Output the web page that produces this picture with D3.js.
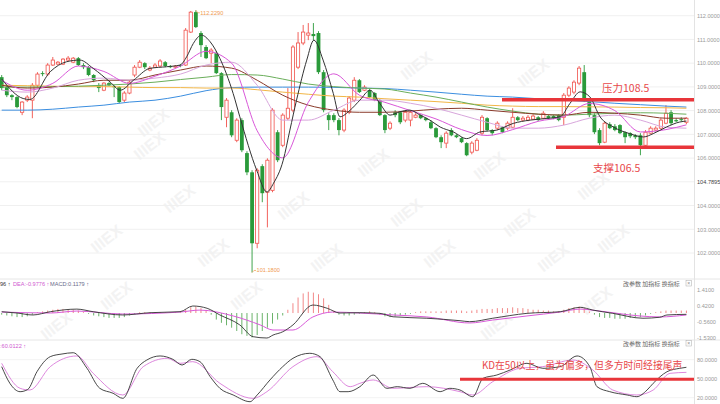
<!DOCTYPE html>
<html><head><meta charset="utf-8">
<script src="https://cdn.jsdelivr.net/npm/d3@7"></script>
<style>body{margin:0;background:#fff;overflow:hidden}svg{display:block;font-family:"Liberation Sans","DejaVu Sans",Arial,sans-serif}</style>
</head><body><svg id="c" width="720" height="404"></svg>
<script>
// ---------- DATA ----------
const opens=[109.41,108.99,108.65,108.57,107.93,108.44,108.44,109.07,109.58,109.54,
109.92,109.96,109.96,110.13,110.04,110.21,109.92,109.83,109.50,109.07,
108.86,109.16,109.03,108.99,108.44,108.74,109.50,109.83,110.00,109.71,
109.83,109.88,110.04,109.88,109.83,109.92,109.92,111.31,112.15,111.27,
110.68,110.42,110.42,109.58,107.72,107.93,106.75,107.60,106.21,105.40,
102.41,105.66,104.56,104.64,107.09,106.54,107.68,108.02,109.83,110.85,
111.18,111.23,111.27,109.62,107.81,107.81,107.60,107.18,107.93,108.44,
109.28,108.86,108.86,108.74,108.44,107.81,107.26,107.93,107.93,107.60,
107.60,107.72,107.81,107.68,107.51,107.26,106.88,106.63,107.18,106.96,
106.84,106.63,106.25,106.33,107.05,107.68,107.18,107.26,107.30,107.26,
107.30,107.72,107.60,107.60,107.64,107.72,107.68,107.77,107.77,107.81,
107.72,108.65,108.78,109.16,109.62,108.44,107.81,107.18,106.67,107.43,
107.34,107.39,107.09,107.05,106.96,106.96,106.54,107.05,107.18,107.26,
107.47,107.93,107.60,107.64,107.51];
const closes=[108.95,108.65,108.57,108.15,108.36,108.57,109.07,109.54,109.54,109.92,
110.13,110.04,110.17,110.21,110.21,109.92,109.83,109.50,109.28,108.95,
109.16,109.07,108.99,108.36,108.74,109.20,109.83,110.04,109.83,109.79,
109.92,110.09,109.88,109.83,109.88,109.88,111.39,112.15,111.52,110.76,
110.21,110.55,109.58,108.15,108.44,106.96,107.60,106.33,105.40,102.41,
105.49,104.52,105.91,108.02,105.91,107.81,108.10,110.68,110.85,111.31,
111.27,111.14,109.62,108.02,107.60,107.60,107.18,108.02,108.53,109.28,
108.78,108.99,108.57,108.44,107.81,107.18,107.47,107.81,107.51,107.93,
107.93,107.81,107.68,107.60,107.26,106.88,106.67,107.05,106.96,106.88,
106.67,106.12,106.63,106.75,107.72,107.18,107.05,107.47,107.09,107.47,
107.72,107.60,107.68,107.72,107.77,107.60,107.89,107.68,107.68,107.60,
108.65,108.95,109.20,109.79,108.44,107.81,107.09,106.63,107.47,107.26,
107.18,107.05,106.88,106.92,106.88,106.54,107.09,107.26,107.26,107.60,
107.89,107.47,107.55,107.60,107.68];
const highs=[109.50,109.07,108.69,108.61,108.40,108.65,109.16,109.62,109.66,110.00,
110.26,110.09,110.21,110.30,110.26,110.26,110.00,109.88,109.54,109.16,
109.20,109.20,109.07,109.03,108.82,109.28,109.92,110.13,110.04,109.88,
110.00,110.17,110.09,109.92,109.92,109.96,111.48,112.20,112.229,111.35,
110.76,110.63,110.51,109.62,108.53,108.02,107.68,107.68,106.29,105.49,
105.57,105.74,105.99,108.10,107.18,107.89,108.95,110.76,111.31,111.61,
111.69,111.69,111.35,109.71,107.89,107.89,107.68,108.10,108.61,109.41,
109.33,109.07,108.95,108.78,108.48,107.85,107.55,108.02,107.98,108.02,
108.02,107.89,107.85,107.72,107.60,107.30,106.96,107.13,107.26,107.01,
106.88,106.67,106.71,106.84,107.81,107.72,107.22,107.55,107.34,107.55,
108.10,107.77,107.77,107.81,107.85,107.77,107.98,107.81,107.81,107.85,
108.74,109.03,109.28,109.88,109.92,108.48,107.89,107.26,107.55,107.51,
107.43,107.43,107.13,107.09,107.01,107.05,107.18,107.34,107.34,107.68,
108.23,108.02,107.68,107.72,107.72];
const lows=[108.86,108.57,108.44,108.10,107.81,108.36,107.68,108.99,109.45,109.45,
109.88,109.92,109.92,110.09,110.00,109.88,109.75,109.45,109.20,108.78,
108.82,109.03,108.57,108.31,108.36,108.69,109.41,109.79,109.75,109.66,
109.79,109.83,109.83,109.79,109.79,109.83,109.88,111.27,111.48,110.26,
110.17,110.00,109.54,107.60,107.30,106.88,106.67,106.25,105.28,101.18,
102.20,104.14,103.08,104.56,105.83,106.46,107.60,107.93,109.75,110.76,
110.97,110.97,109.54,107.93,107.18,107.51,106.96,107.09,107.85,108.36,
108.74,108.82,108.53,108.40,107.77,107.05,107.18,107.72,107.43,107.51,
107.34,107.68,107.64,107.55,107.22,106.84,106.42,106.42,106.92,106.84,
106.63,106.08,106.16,106.29,106.96,107.13,106.96,107.18,107.05,107.18,
107.26,107.55,107.55,107.55,107.60,107.55,107.64,107.64,107.64,107.55,
107.39,108.57,108.69,109.07,108.36,107.72,107.01,106.54,106.63,107.22,
107.13,107.01,106.63,106.84,106.80,106.12,106.50,107.01,107.13,107.22,
107.43,107.39,107.51,107.55,107.43];

// moving averages (read at sample candles)
const ma5Idx=[0,4.2,5.5,9.5,12.7,15.3,17.9,21.2,23.2,25.8,29,32.3,34.9,36.2,37.5,39.1,40.8,42.7,45.3,46.6,49.9,51.9,53.2,55.1,56.4,57.7,59.7,61.1,62.9,64.9,66.2,68.2,70.1,72.1,74,76,77.9,79.9,81.9,83.8,85.8,88.4,91,93.6,96.9,100.1,103.4,106.7,109.3,111.2,113.2,115.1,117.1,119.7,122.9,125.6,127.5,130.1,132.7,134];
const ma5=[109.33,108.51,108.47,109.64,110.06,110.13,109.78,109.21,108.86,109.28,109.78,109.85,109.92,110.27,110.83,111.18,110.90,110.20,108.72,107.74,105.49,104.57,104.94,105.91,107.18,108.44,110.13,110.97,110.13,108.72,107.74,108.02,108.44,108.86,108.30,107.81,107.95,108.02,107.81,107.60,107.31,107.10,106.82,107.10,107.18,107.46,107.60,107.67,107.74,108.30,108.79,108.58,107.74,107.31,107.03,106.89,107.03,107.31,107.52,107.56];
const maIdx=[0,5,10,15,20,25,30,35,40,45,50,55,60,65,70,75,80,85,90,95,100,105,110,115,120,125,130,134];
const ma10=[109.28,108.86,109.15,109.88,109.65,109.15,109.45,109.88,110.50,110.00,107.15,106.01,108.35,109.55,108.65,108.35,108.00,107.65,107.20,106.95,107.20,107.55,107.75,108.30,108.00,107.10,107.20,107.40];
const ma20=[108.86,108.78,108.95,109.28,109.37,109.28,109.37,109.54,109.92,110.04,109.07,107.60,107.60,108.02,108.44,108.44,108.31,108.10,107.81,107.51,107.26,107.26,107.39,107.68,107.81,107.60,107.30,107.26];
const ma30=[109.07,108.95,108.99,109.12,109.28,109.28,109.50,109.71,109.88,109.79,109.28,108.65,108.23,108.02,107.93,107.93,107.98,108.06,108.10,108.02,107.93,107.85,107.81,107.93,107.89,107.81,107.68,107.68];
const ma60=[108.99,108.99,109.01,109.03,109.07,109.12,109.20,109.31,109.41,109.52,109.50,109.33,109.12,109.01,108.95,108.91,108.74,108.57,108.36,108.15,107.98,107.85,107.81,107.85,107.89,107.91,107.89,107.85];
const ma120=[109.07,109.05,109.03,109.01,109.01,108.99,108.97,108.97,108.95,108.95,108.88,108.78,108.69,108.61,108.57,108.50,108.44,108.38,108.31,108.23,108.19,108.17,108.17,108.16,108.15,108.13,108.12,108.10];
const ma250=[108.02,108.02,108.06,108.15,108.23,108.36,108.44,108.61,108.84,108.97,108.99,108.99,108.99,108.98,108.95,108.93,108.86,108.78,108.69,108.61,108.57,108.50,108.44,108.38,108.31,108.25,108.19,108.15];

// MACD
const difIdx=[0,3,6.1,9.5,14.7,17.9,23.7,29,34.9,37.4,40.2,42.7,46.6,49.2,51.9,53.1,55,57,60.9,63.7,66.2,70.1,74,76.6,83.2,89.7,91.6,96.1,102.8,109.3,113.2,115.7,119.6,125.5,128.8,130.2,134];
const dif=[0.08,0,-0.12,0.08,0.24,0.08,-0.12,0.02,0.08,0.43,0.29,-0.12,-0.73,-1.45,-1.53,-1.35,-1.15,-0.73,0.49,0.29,0,0.02,-0.02,-0.23,-0.32,-0.47,-0.53,-0.32,-0.02,0.08,0.35,0.18,-0.02,-0.32,-0.26,-0.12,-0.08];
const deaIdx=[0,9.5,14.7,23.7,34.9,38.8,45.3,50.6,53.1,57,60.9,64.8,70.1,76.6,83.2,91.6,96.1,102.8,109.3,113.2,117,124.9,128.8,134];
const dea=[0.06,0,0.12,-0.06,0.06,0.18,-0.18,-0.73,-1.04,-1.04,-0.24,0.06,0,-0.12,-0.24,-0.61,-0.43,-0.18,0.06,0.24,0.12,-0.18,-0.24,-0.12];
const macdHist=[-0.1,-0.15,-0.2,-0.25,-0.25,-0.2,-0.1,0.05,0.1,0.15,
0.2,0.25,0.25,0.2,0.2,0.15,0.05,-0.05,-0.15,-0.2,
-0.25,-0.3,-0.3,-0.3,-0.25,-0.15,-0.05,0.05,0.05,0.05,
0.05,0.05,0.05,0.05,0.05,0.05,0.2,0.35,0.4,0.3,
0.15,-0.1,-0.4,-0.6,-0.75,-0.9,-1.1,-1.3,-1.4,-1.5,
-1.35,-1.1,-0.9,-0.65,-0.4,-0.15,0.2,0.6,0.95,1.2,
1.3,1.25,1.15,0.9,0.5,0.15,-0.1,-0.15,-0.15,-0.1,
-0.05,0.05,0.1,0.05,-0.1,-0.2,-0.25,-0.2,-0.15,-0.1,
-0.05,0.05,0.1,0.1,0.1,0.1,0.1,0.15,0.15,0.15,
0.15,0.1,0.15,0.2,0.25,0.25,0.25,0.3,0.3,0.3,
0.35,0.3,0.3,0.25,0.2,0.2,0.15,0.15,0.1,0.1,
0.2,0.3,0.35,0.4,0.3,0.1,-0.1,-0.25,-0.3,-0.3,
-0.35,-0.35,-0.35,-0.3,-0.3,-0.25,-0.15,-0.05,0.05,0.1,
0.15,0.15,0.15,0.15,0.15];

// KD
const kIdx=[0,1.6,3.6,5.1,6.9,9.5,11.8,14,16.7,19.2,21.8,23.7,26.5,28.4,31,33.5,35.3,37.2,38.8,40.8,42.7,45.3,48.6,50,52.5,55,57,60.3,62.3,64.8,66.2,67.8,70.1,72.7,75.4,77.4,79.9,82.4,85.8,87.7,89.7,92.2,94.2,96.9,99.5,102.8,105.9,109.3,112.6,115.1,116.5,119,122.4,124.3,126.3,127.5,130.2,132.7,134];
const kVal=[69,42.7,29.5,33,61,84.8,89,91,66.4,34.8,27,19,66.4,79.5,85.9,80.6,71.6,80.6,76.9,53.2,34.8,24.3,13.7,24.3,48,69,82.2,90.1,84.8,48,29.5,29.5,37.4,55.8,34.8,37.4,34.8,42.7,29.5,34.8,32.1,21.6,50.6,55.8,63.7,74.3,66.4,69,85.9,69,37.4,29.5,24.3,21.6,32.1,42.7,61,66.4,68];
const dIdx=[0,3.6,5.5,9.5,14.7,17.9,23.7,27.7,32.4,34.9,37.4,42.7,49.2,51.9,57,61.7,64.8,68.2,70.1,72.7,76.6,83.2,89.7,92.2,96.1,101.4,105.9,111.8,115.7,119.6,124.3,127.5,130.8,134];
const dVal=[74.3,34.8,32.1,69,85.9,58.5,24.3,69,82.2,74.3,76.9,42.7,19,29.5,69,84.8,61,37.4,42.7,48,34.8,37.4,29.5,24.3,45.3,66.4,69,79.5,63.7,32.1,24.3,32.1,58.5,60.01];

// ticks
const priceTicks=[112,111,110,109,108,107,106,105,104,103,102];
const priceTickLabels=["112.0000","111.0000","110.0000","109.0000","108.0000","107.0000","106.0000","104.7895","104.0000","103.0000","102.0000"];
const macdTicks=[1.41,0.42,-0.56,-1.53];
const macdTickLabels=["1.4100","0.4200","-0.5600","-1.5300"];
const kdTicks=[80,50,20];
const kdTickLabels=["80.0000","50.0000","20.0000"];
const resistance=108.5, support=106.5, kdLevel=50;

// ---------- CHART ----------
const svg=d3.select('#c');
const AX=694;
const x=d3.scaleLinear().domain([0,134]).range([1.7,686.4]);
const yP=d3.scaleLinear().domain([102,112]).range([253,15.7]);
const yM=d3.scaleLinear().domain([-1.53,1.41]).range([338,290]);
const yK=d3.scaleLinear().domain([20,80]).range([397.7,359.7]);
const RED='#f0504a', GRN='#2a9a3a';

// watermarks
const wm=[[153,150],[183,203],[110,243],[217,257],[377,167],[297,210],[410,217],[330,262],[443,258],[493,170],[597,190],[523,227],[617,243],[557,262],[420,70],[537,77],[157,127],[120,300],[250,300],[600,305],[60,330],[500,330]];
svg.append('g').selectAll('text').data(wm).join('text')
 .attr('transform',d=>`translate(${d[0]},${d[1]}) rotate(-38)`)
 .attr('text-anchor','middle').attr('font-size',16).attr('font-weight','bold')
 .attr('fill','#f3f3f3').text('IIIEX');

// grids
svg.append('g').selectAll('line').data(priceTicks).join('line')
 .attr('x1',0).attr('x2',AX).attr('y1',d=>yP(d)).attr('y2',d=>yP(d)).attr('stroke','#f0f0f0');
svg.append('g').selectAll('line').data(kdTicks).join('line')
 .attr('x1',0).attr('x2',AX).attr('y1',d=>yK(d)).attr('y2',d=>yK(d)).attr('stroke','#f3f3f3');
[279,340].forEach(v=>svg.append('line').attr('x1',0).attr('x2',720).attr('y1',v).attr('y2',v).attr('stroke','#e6e6e6'));
svg.append('line').attr('x1',AX+0.5).attr('x2',AX+0.5).attr('y1',0).attr('y2',404).attr('stroke','#e3e3e3');

// candles
const main=svg.append('g');
const cd=opens.map((o,i)=>({i,o,c:closes[i],h:highs[i],l:lows[i]}));
cd.forEach(d=>{
  const up=d.c>=d.o, col=up?RED:GRN, cx=x(d.i);
  const top=yP(Math.max(d.o,d.c)), bot=yP(Math.min(d.o,d.c));
  if(up){
    main.append('line').attr('x1',cx).attr('x2',cx).attr('y1',yP(d.h)).attr('y2',top).attr('stroke',col).attr('stroke-width',0.9);
    main.append('line').attr('x1',cx).attr('x2',cx).attr('y1',bot).attr('y2',yP(d.l)).attr('stroke',col).attr('stroke-width',0.9);
    main.append('rect').attr('x',cx-1.6).attr('y',top).attr('width',3.2).attr('height',Math.max(0.8,bot-top)).attr('fill','#fff').attr('stroke',col).attr('stroke-width',0.8);
  } else {
    main.append('line').attr('x1',cx).attr('x2',cx).attr('y1',yP(d.h)).attr('y2',yP(d.l)).attr('stroke',col).attr('stroke-width',0.9);
    main.append('rect').attr('x',cx-1.9).attr('y',top).attr('width',3.8).attr('height',Math.max(1,bot-top)).attr('fill',col);
  }
});

function path(idx,vals,sc,col,w){
  const ln=d3.line().x((d,j)=>x(idx[j])).y(d=>sc(d)).curve(d3.curveMonotoneX);
  svg.append('path').attr('d',ln(vals)).attr('fill','none').attr('stroke',col).attr('stroke-width',w||0.9);
}
path(maIdx,ma250,yP,'#3b8ee0',1);
path(maIdx,ma120,yP,'#f2b646',1);
path(maIdx,ma60,yP,'#6aae5a',1);
path(maIdx,ma30,yP,'#8a3b2b',1);
path(maIdx,ma20,yP,'#d8a6dc',1);
path(maIdx,ma10,yP,'#d957d9',1);
path(ma5Idx,ma5,yP,'#333',1);

// extreme labels
const hiI=highs.indexOf(d3.max(highs)), loI=lows.indexOf(d3.min(lows));
svg.append('path').attr('d',`M${x(hiI)},${yP(highs[hiI])}L${x(hiI)+2},${yP(highs[hiI])+2.5}L${x(hiI)+4},${yP(highs[hiI])+2.5}`).attr('fill','none').attr('stroke','#f09a50').attr('stroke-width',0.7);
svg.append('text').attr('x',x(hiI)+4.5).attr('y',yP(highs[hiI])+4.5).attr('font-size',5.6).attr('fill','#f09a50').text(highs[hiI].toFixed(4));
svg.append('path').attr('d',`M${x(loI)},${yP(lows[loI])}L${x(loI)+2},${yP(lows[loI])-2}L${x(loI)+4},${yP(lows[loI])-2}`).attr('fill','none').attr('stroke','#f09a50').attr('stroke-width',0.7);
svg.append('text').attr('x',x(loI)+4.5).attr('y',yP(lows[loI])).attr('font-size',5.6).attr('fill','#f09a50').text(lows[loI].toFixed(4));

// price axis
const ax=svg.append('g').attr('transform',`translate(${AX},0)`)
 .call(d3.axisRight(yP).tickValues(priceTicks).tickSize(0).tickPadding(3).tickFormat((d,i)=>priceTickLabels[i]));
ax.select('.domain').remove();
ax.selectAll('text').attr('font-size',5.6).attr('fill',(d,i)=>i===7?'#444':'#9a9a9a').attr('font-family','"Liberation Sans",sans-serif');

// resistance / support
const CJK='"Noto Sans CJK SC","Noto Sans",sans-serif';
svg.append('line').attr('x1',502).attr('x2',AX).attr('y1',yP(resistance)+1).attr('y2',yP(resistance)+1).attr('stroke','#e8353a').attr('stroke-width',3.5);
svg.append('line').attr('x1',556).attr('x2',AX).attr('y1',yP(support)+1).attr('y2',yP(support)+1).attr('stroke','#e8353a').attr('stroke-width',3.5);
svg.append('text').attr('x',602).attr('y',92).attr('font-size',10.5).attr('fill','#e8474a').attr('font-family',CJK).text('压力'+resistance);
svg.append('text').attr('x',593).attr('y',172).attr('font-size',10.5).attr('fill','#e8474a').attr('font-family',CJK).text('支撑'+support);

// MACD pane
svg.append('g').selectAll('line').data(macdHist).join('line')
 .attr('x1',(d,i)=>x(i)).attr('x2',(d,i)=>x(i)).attr('y1',yM(0)).attr('y2',d=>yM(d))
 .attr('stroke',d=>d>=0?'#f07a7a':'#5aaa5a').attr('stroke-width',0.9);
path(deaIdx,dea,yM,'#d95ad9',1);
path(difIdx,dif,yM,'#333',0.9);
const mx=svg.append('g').attr('transform',`translate(${AX},0)`)
 .call(d3.axisRight(yM).tickValues(macdTicks).tickSize(0).tickPadding(3).tickFormat((d,i)=>macdTickLabels[i]));
mx.select('.domain').remove();
mx.selectAll('text').attr('font-size',5.6).attr('fill','#9a9a9a');
const mh=svg.append('text').attr('y',286).attr('font-size',5.6);
mh.append('tspan').attr('x',0).attr('fill','#333').text('96 ↑');
mh.append('tspan').attr('x',13).attr('fill','#d05ad0').text('DEA:-0.9776 ↑');
mh.append('tspan').attr('x',50).attr('fill','#6a6a8a').text('MACD:0.1179 ↑');

// KD pane
path(dIdx,dVal,yK,'#d97ad9',0.9);
path(kIdx,kVal,yK,'#333',0.9);
const kx=svg.append('g').attr('transform',`translate(${AX},0)`)
 .call(d3.axisRight(yK).tickValues(kdTicks).tickSize(0).tickPadding(3).tickFormat((d,i)=>kdTickLabels[i]));
kx.select('.domain').remove();
kx.selectAll('text').attr('font-size',5.6).attr('fill','#9a9a9a');
svg.append('text').attr('x',0).attr('y',347.5).attr('font-size',5.6).attr('fill','#d05ad0').text(':60.0122 ↑');
svg.append('line').attr('x1',460).attr('x2',AX).attr('y1',yK(kdLevel)+0.5).attr('y2',yK(kdLevel)+0.5).attr('stroke','#e8353a').attr('stroke-width',3);
svg.append('text').attr('x',482).attr('y',369).attr('font-size',9.8).attr('fill','#e8474a').attr('font-family',CJK).text('KD在50以上，虽为偏多，但多方时间经接尾声');

// toolbar texts
[286,346].forEach(yy=>{
  svg.append('text').attr('x',623).attr('y',yy).attr('font-size',6).attr('fill','#666').attr('font-family',CJK).text('改参数  加指标  换指标');
  svg.append('rect').attr('x',686).attr('y',yy-5.5).attr('width',5.5).attr('height',5.5).attr('fill','none').attr('stroke','#aaa').attr('stroke-width',0.5);
  svg.append('text').attr('x',688.7).attr('y',yy-1).attr('text-anchor','middle').attr('font-size',5).attr('fill','#888').text('×');
});
</script></body></html>
